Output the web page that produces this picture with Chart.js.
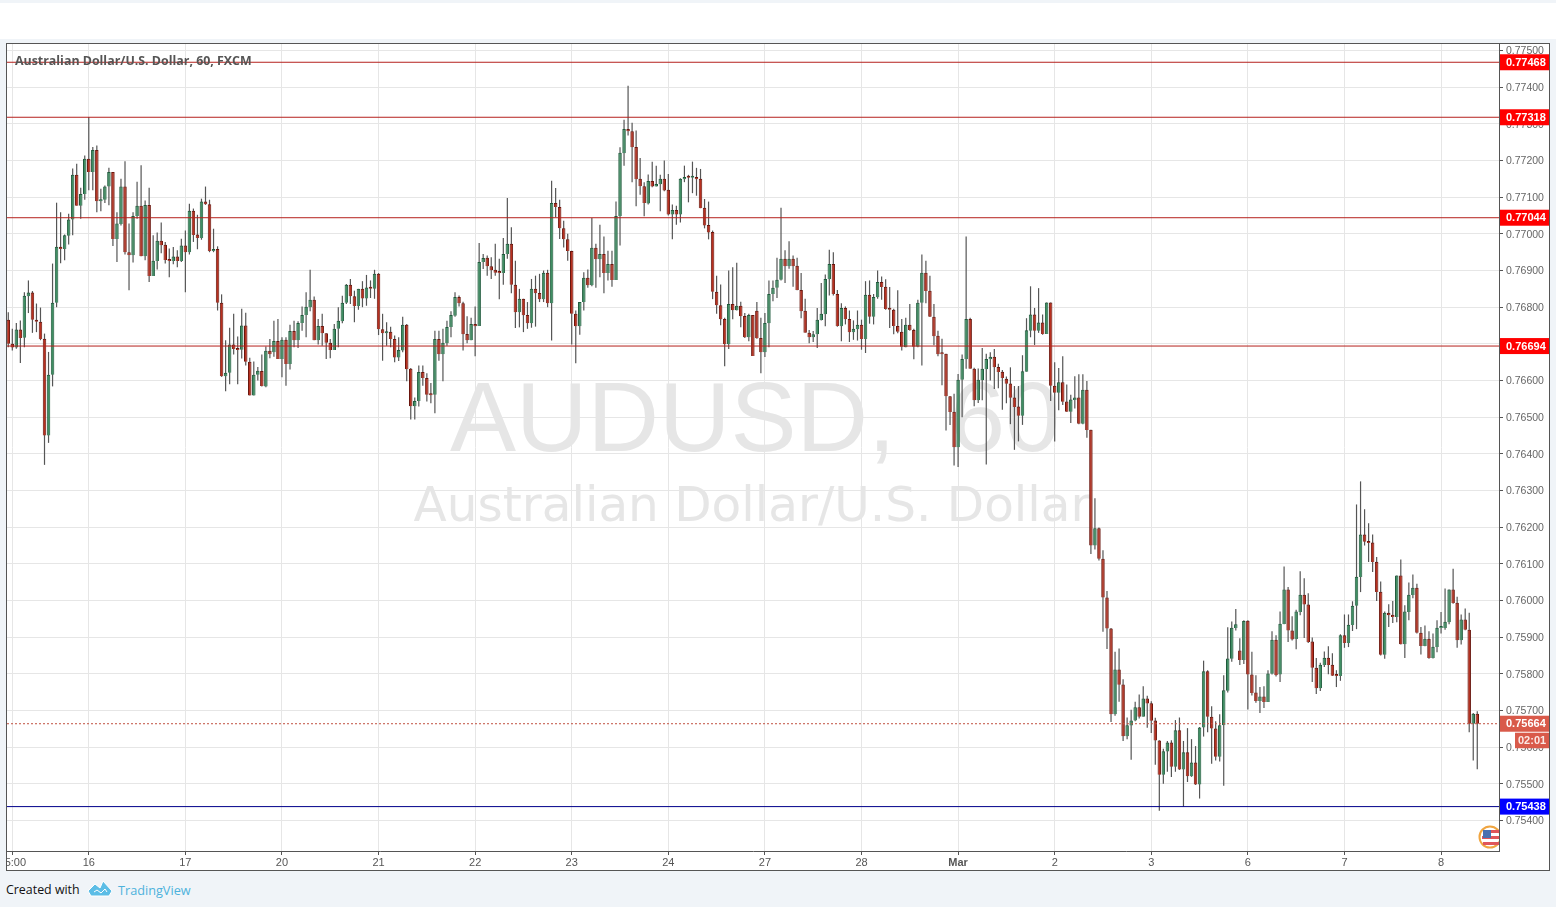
<!DOCTYPE html>
<html>
<head>
<meta charset="utf-8">
<title>AUDUSD, 60</title>
<script src="https://cdn.jsdelivr.net/npm/chart.js@4"></script>
<style>
    html, body { margin: 0; padding: 0; width: 1556px; height: 907px; overflow: hidden; background: #f0f4f8; }
    #topband { position: absolute; left: 0; top: 3px; width: 1556px; height: 36px; background: #fff; }
    #frame { position: absolute; left: 6px; top: 43px; width: 1544px; height: 828px; box-sizing: border-box; border: 1px solid #555; background: #fff; }
    #wrap { position: absolute; left: 0; top: 0; width: 1542px; height: 826px; }
    #flag { position: absolute; left: 1478px; top: 825px; }
    #footer { position: absolute; left: 6px; top: 881px; font: 12.4px "Open Sans", sans-serif; color: #111; }
    #footer svg { position: absolute; left: 81px; top: -1px; }
    #footer span { position: absolute; left: 112px; top: 0; color: #4db2dc; white-space: nowrap; font-size: 12.7px; }
</style>
</head>
<body>
<div id="topband"></div>
<div id="frame"><div id="wrap"><canvas id="chart"></canvas></div></div>
<svg id="flag" width="21" height="24" viewBox="0 0 21 24">
    <circle cx="12" cy="12" r="10.5" fill="#fff" stroke="#f0a540" stroke-width="2"/>
    <path d="M5 5h16v3H5zM4 11h17v3H4zM5 17h16v3H5z" fill="#e0565a"/>
    <rect x="5" y="5" width="8" height="8" fill="#4a70b0"/>
</svg>
<div id="footer">Created with
    <svg width="26" height="17" viewBox="0 0 26 17"><path d="M1 11 8 4l5 4 3-7 9 10-3 5H4zM7 12l3-2 4 3 4-4 2 3" fill="#5cbde6" stroke="#fff" stroke-width="1"/></svg>
    <span>TradingView</span>
</div>
<script>
// prices are in 1/100000 of a dollar
const opens = [76766,76700,76690,76739,76717,76830,76840,76766,76760,76714,
76450,76616,76812,76965,76959,76995,77039,77161,77077,77109,
77205,77169,77229,77089,77093,77129,77169,76986,77027,77129,
76950,76942,77049,77077,76939,77079,76885,76926,76981,76970,
76930,76926,76938,76926,76968,76950,77063,76998,76989,77088,
77081,76953,76959,76812,76612,76621,76698,76687,76684,76750,
76651,76559,76616,76626,76584,76681,76677,76708,76659,76711,
76645,76735,76710,76757,76779,76800,76820,76710,76749,76729,
76703,76683,76741,76762,76812,76861,76830,76803,76850,76824,
76855,76850,76891,76740,76729,76733,76713,76663,76682,76752,
76632,76530,76544,76623,76607,76562,76561,76713,76672,76702,
76746,76777,76828,76811,76727,76710,76754,76749,76923,76935,
76912,76902,76896,76893,76945,76973,76861,76786,76823,76779,
76756,76850,76839,76822,76894,76811,77084,77073,77015,76985,
76953,76782,76748,76814,76880,76860,76962,76931,76945,76893,
76918,76874,77048,77220,77286,77280,77237,77150,77130,77083,
77144,77129,77135,77150,77120,77053,77065,77053,77149,77155,
77153,77155,77150,77071,77024,77005,76842,76805,76768,76699,
76809,76792,76804,76776,76718,76779,76790,76716,76677,76756,
76836,76853,76875,76932,76912,76932,76913,76847,76790,76730,
76718,76726,76765,76781,76876,76918,76836,76748,76798,76768,
76732,76740,76752,76713,76834,76774,76827,76869,76856,76796,
76793,76749,76733,76691,76752,76738,76692,76812,76894,76845,
76774,76722,76674,76673,76557,76515,76418,76602,76658,76768,
76632,76546,76601,76631,76658,76665,76637,76624,76605,76592,
76554,76529,76504,76624,76736,76780,76736,76758,76727,76813,
76586,76567,76595,76543,76515,76547,76554,76482,76575,76466,
76150,76197,76114,76008,75924,75690,75812,75771,75630,75659,
75673,75709,75683,75733,75720,75673,75618,75525,75588,75613,
75547,75646,75539,75586,75521,75558,75498,75654,75807,75683,
75651,75574,75660,75754,75841,75925,75864,75838,75945,75798,
75749,75726,75738,75723,75800,75893,75798,75936,76030,75918,
75895,75969,76016,75989,75888,75817,75761,75824,75844,75825,
75796,75794,75905,75884,75933,75986,76064,76180,76160,76158,
76106,76024,75852,75967,75961,75955,76068,75881,75969,76015,
76035,75912,75876,75896,75843,75873,75925,75925,75941,76030,
75994,75892,75948,75920,75664,75691];
const highs = [76786,76741,76757,76764,76841,76873,76844,76810,76799,76728,
76678,76919,77085,77059,76998,77055,77178,77191,77126,77214,
77319,77237,77241,77123,77132,77180,77169,77059,77150,77198,
77028,77059,77142,77187,77091,77126,76996,77004,77031,76978,
76960,76964,76955,76987,77009,77082,77069,77052,77096,77129,
77093,77014,76966,76835,76710,76744,76782,76720,76796,76785,
76662,76652,76637,76671,76693,76713,76763,76768,76718,76718,
76752,76763,76762,76802,76841,76902,76829,76768,76782,76729,
76713,76754,76800,76831,76863,76877,76845,76850,76871,76888,
76873,76902,76893,76782,76759,76747,76723,76718,76774,76754,
76634,76554,76641,76641,76620,76593,76736,76736,76741,76763,
76789,76841,76832,76815,76775,76771,76802,76975,76945,76941,
76936,76973,76932,76989,77098,77018,76927,76850,76823,76814,
76877,76886,76891,76900,76902,77145,77125,77093,77036,77000,
76954,76791,76814,76895,76903,77043,76973,77025,76993,76954,
76954,77088,77236,77311,77404,77303,77282,77207,77141,77162,
77197,77186,77161,77200,77163,77080,77077,77152,77186,77161,
77197,77180,77177,77095,77088,77009,76886,76862,76771,76900,
76909,76921,76815,76784,76782,76779,76814,76771,76784,76873,
76873,76935,77071,76955,76980,76941,76935,76893,76823,76738,
76735,76798,76866,76889,76957,76950,76847,76811,76802,76791,
76764,76791,76766,76871,76873,76836,76900,76884,76876,76855,
76796,76846,76768,76771,76809,76741,76820,76944,76927,76886,
76809,76736,76714,76673,76557,76564,76618,76671,76993,76771,
76635,76633,76689,76673,76677,76686,76646,76629,76611,76636,
76585,76585,76669,76770,76857,76798,76852,76780,76813,76813,
76650,76634,76666,76589,76561,76612,76617,76617,76599,76466,
76279,76199,76137,76026,75925,75860,75869,75785,75681,75702,
75724,75744,75766,75740,75725,75680,75619,75596,75617,75619,
75674,75681,75617,75652,75622,75603,75655,75836,75810,75712,
75671,75690,75796,75927,75943,75977,75897,75946,75946,75860,
75796,75764,75766,75810,75916,75905,75970,76093,76037,75957,
75975,76080,76061,76020,75899,75843,75830,75861,75875,75856,
75810,75908,75962,75962,75998,76262,76325,76249,76211,76180,
76119,76052,75970,75990,75999,76068,76112,75987,76049,76071,
76046,75928,75932,75916,75910,75946,75969,76033,76030,76087,
76010,75962,75978,75967,75693,75698];
const lows = [76691,76682,76687,76648,76691,76784,76730,76732,76710,76370,
76430,76584,76800,76920,76928,76971,76996,77077,77041,77093,
77119,77119,77059,77062,77084,77078,76967,76923,77023,76944,
76846,76922,77041,76939,76928,76869,76885,76903,76947,76919,
76882,76917,76909,76923,76841,76944,76978,76958,76984,77079,
76950,76950,76791,76610,76571,76590,76671,76590,76660,76641,
76559,76559,76600,76584,76582,76661,76665,76659,76609,76586,
76630,76691,76689,76736,76718,76789,76710,76698,76695,76659,
76661,76683,76691,76756,76809,76809,76759,76793,76800,76804,
76825,76823,76724,76654,76695,76691,76650,76653,76677,76598,
76494,76494,76529,76586,76543,76538,76511,76654,76598,76695,
76718,76774,76802,76682,76702,76710,76666,76749,76904,76886,
76877,76886,76822,76861,76932,76838,76743,76745,76732,76741,
76744,76747,76814,76814,76800,76709,77045,76986,76963,76927,
76698,76647,76725,76791,76853,76857,76853,76882,76838,76873,
76856,76874,76968,77186,77268,77141,77075,77107,77048,77080,
77127,77129,77062,77116,77050,76985,77025,77031,77141,77086,
77111,77104,77070,77015,76985,76822,76782,76751,76639,76686,
76767,76791,76745,76716,76707,76667,76714,76620,76664,76691,
76816,76825,76873,76866,76905,76856,76846,76770,76730,76702,
76705,76689,76764,76748,76832,76832,76747,76707,76753,76705,
76711,76709,76684,76675,76755,76753,76823,76820,76793,76743,
76726,76729,76682,76691,76736,76658,76691,76641,76811,76773,
76696,76666,76587,76464,76479,76368,76364,76500,76632,76632,
76530,76539,76546,76371,76600,76577,76579,76520,76538,76481,
76411,76434,76479,76624,76718,76697,76730,76725,76727,76544,
76434,76519,76533,76514,76484,76524,76481,76481,76444,76127,
76139,76109,75915,75868,75669,75686,75724,75617,75622,75566,
75671,75678,75683,75653,75639,75552,75427,75500,75533,75519,
75533,75538,75437,75505,75519,75497,75460,75629,75641,75555,
75564,75561,75495,75749,75833,75918,75824,75827,75703,75741,
75721,75693,75707,75723,75798,75793,75778,75935,75887,75891,
75867,75960,75898,75884,75778,75745,75753,75819,75799,75794,
75764,75781,75871,75873,75917,75922,76023,76150,76105,76078,
75999,75850,75841,75928,75939,75941,75880,75843,75946,76006,
75910,75853,75875,75841,75842,75859,75910,75920,75935,75991,
75871,75880,75919,75641,75564,75540];
const closes = [76700,76690,76739,76716,76831,76840,76766,76760,76713,76450,
76616,76812,76965,76959,76996,77039,77161,77077,77109,77205,
77169,77229,77089,77094,77129,77169,76986,77028,77129,76950,
76942,77049,77077,76939,77079,76885,76927,76981,76969,76929,
76926,76938,76926,76968,76950,77063,76997,76989,77088,77081,
76953,76959,76812,76612,76621,76698,76686,76683,76750,76651,
76559,76616,76627,76585,76681,76672,76708,76659,76711,76645,
76735,76710,76757,76779,76801,76820,76710,76749,76729,76703,
76683,76741,76763,76812,76861,76830,76803,76850,76824,76854,
76850,76891,76740,76729,76733,76713,76663,76683,76752,76631,
76530,76544,76623,76607,76561,76560,76713,76672,76703,76746,
76779,76828,76811,76726,76710,76754,76748,76923,76934,76912,
76901,76894,76893,76945,76973,76861,76786,76823,76778,76756,
76850,76838,76822,76894,76811,77084,77073,77015,76985,76953,
76782,76748,76814,76880,76860,76962,76931,76945,76893,76918,
76874,77049,77221,77286,77280,77236,77149,77130,77084,77144,
77129,77136,77150,77118,77053,77065,77053,77150,77155,77153,
77155,77149,77070,77023,77004,76842,76805,76767,76699,76809,
76792,76804,76775,76718,76779,76667,76715,76677,76757,76836,
76853,76875,76932,76912,76932,76912,76847,76789,76730,76718,
76726,76766,76782,76877,76918,76836,76749,76798,76767,76732,
76741,76752,76713,76834,76774,76828,76869,76855,76795,76793,
76749,76733,76692,76752,76738,76692,76812,76894,76844,76774,
76721,76672,76672,76557,76514,76418,76602,76659,76768,76632,
76546,76602,76632,76659,76665,76636,76623,76607,76591,76553,
76528,76504,76625,76737,76780,76736,76758,76727,76813,76586,
76567,76595,76542,76515,76548,76554,76482,76575,76465,76150,
76197,76114,76008,75924,75690,75812,75770,75630,75660,75673,
75709,75683,75733,75719,75672,75618,75525,75589,75613,75547,
75646,75539,75586,75521,75558,75498,75654,75807,75683,75651,
75574,75660,75755,75842,75926,75935,75838,75944,75798,75748,
75726,75738,75723,75801,75893,75796,75937,76030,75918,75894,
75970,76016,75989,75887,75817,75761,75825,75844,75824,75795,
75794,75905,75884,75934,75986,76065,76180,76160,76157,76105,
76023,75852,75967,75960,75955,76068,75881,75970,76016,76035,
75912,75876,75896,75843,75874,75926,75927,75942,76030,75993,
75892,75948,75920,75664,75691,75664];

// candle number of each day tick
const dayTicks = [1,20,44,68,92,116,140,164,188,212,236,260,284,308,332,356];
const dayLabels = ["05:00","16","17","20","21","22","23","24","27","28","Mar","2","3","6","7","8"];
const priceTicks = [0.775,0.774,0.773,0.772,0.771,0.77,0.769,0.768,0.767,0.766,0.765,0.764,0.763,0.762,0.761,0.76,0.759,0.758,0.757,0.756,0.755,0.754];

const resistance = [0.77468,0.77318,0.77044,0.76694];
const lastPrice = 0.75664;
const support = 0.75438;
const countdown = "02:01";

const xMin = -0.32, xMax = 370.4;
const yMin = 0.753169, yMax = 0.775178;

const upFill = "#3f8f63", upEdge = "#1f5a3c";
const downFill = "#b8301f", downEdge = "#6a160e";
const lineRed = "#b5201c";

function levelLine(value, color, dash) {
    return {
        type: "line",
        data: [{x: xMin, y: value}, {x: xMax, y: value}],
        borderColor: color,
        borderWidth: 1,
        borderDash: dash || [],
        pointRadius: 0,
        order: 1
    };
}

const wicks = highs.map((h, i) => ({x: i, y: [lows[i] / 100000, h / 100000]}));
const bodies = opens.map((o, i) => ({x: i, y: [Math.min(o, closes[i]) / 100000, Math.max(o, closes[i]) / 100000]}));
const isUp = opens.map((o, i) => closes[i] >= o);

// watermark, behind the candles
const backText = {
    id: "backText",
    afterLayout(chart) {
        // price labels sit a pixel under their ticks in the original
        chart.scales.y.getLabelItems().forEach(item => { item.options.translation[1] += 1; });
    },
    beforeDatasetsDraw(chart) {
        const c = chart.ctx;
        const a = chart.chartArea;
        c.save();
        c.beginPath();
        c.rect(a.left, a.top, a.width, a.height);
        c.clip();
        c.fillStyle = "#e6e6e6";
        c.textAlign = "center";
        c.textBaseline = "alphabetic";
        c.font = '99px "Liberation Sans"';
        c.wordSpacing = "27px";
        c.fillText("AUDUSD, 60", 755 - 7, 451 - 44);
        c.wordSpacing = "0px";
        c.font = '48.5px "DejaVu Sans"';
        c.fillText("Australian Dollar/U.S. Dollar", 752 - 7, 521 - 44);
        c.restore();
    }
};

// title and the coloured price labels go on top
const frontText = {
    id: "frontText",
    afterDraw(chart) {
        const c = chart.ctx;
        const a = chart.chartArea;
        const y = chart.scales.y;
        c.save();
        c.fillStyle = "#555";
        c.textAlign = "left";
        c.textBaseline = "middle";
        c.font = 'bold 12.4px "Open Sans"';
        c.fillText("Australian Dollar/U.S. Dollar, 60, FXCM", 8, 17.5);

        function priceLabel(value, color) {
            const py = y.getPixelForValue(value);
            c.fillStyle = color;
            c.fillRect(a.right + 1, py - 8, 50, 16);
            c.fillStyle = "#fff";
            c.font = 'bold 11px "Liberation Sans"';
            c.fillText(value.toFixed(5), a.right + 7, py + 0.5);
            return py;
        }
        resistance.forEach(v => priceLabel(v, "#ff0000"));
        priceLabel(support, "#0000ff");
        const py = priceLabel(lastPrice, "#d95a4a");
        c.fillStyle = "#d95a4a";
        c.fillRect(a.right + 16, py + 9, 34, 15.5);
        c.fillStyle = "#fbe9e6";
        c.fillText(countdown, a.right + 19, py + 17.5);
        c.restore();
    }
};

const newChart = new Chart(document.getElementById("chart"), {
    type: "bar",
    data: {
        datasets: [
            {
                data: wicks,
                backgroundColor: "#555",
                barThickness: 1.2,
                grouped: false,
                inflateAmount: 0,
                order: 3
            },
            {
                data: bodies,
                backgroundColor: isUp.map(u => u ? upFill : downFill),
                borderColor: isUp.map(u => u ? upEdge : downEdge),
                borderWidth: 1,
                barThickness: 3.5,
                minBarLength: 2,
                grouped: false,
                inflateAmount: 0,
                order: 2
            },
            levelLine(resistance[0], lineRed),
            levelLine(resistance[1], lineRed),
            levelLine(resistance[2], lineRed),
            levelLine(resistance[3], lineRed),
            levelLine(lastPrice, "#c0503f", [2, 2]),
            levelLine(support, "#00008b")
        ]
    },
    options: {
        responsive: true,
        maintainAspectRatio: false,
        animation: false,
        layout: {padding: 0},
        plugins: {legend: {display: false}, tooltip: {enabled: false}},
        scales: {
            x: {
                type: "linear",
                min: xMin,
                max: xMax,
                offset: false,
                afterBuildTicks(scale) {
                    scale.ticks = dayTicks.map(v => ({value: v}));
                },
                afterFit(scale) {
                    scale.height = 19;
                    scale.paddingLeft = 0;
                    scale.paddingRight = 0;
                },
                grid: {offset: false, color: "#e6e6e6", tickColor: "#555", tickLength: 4},
                border: {color: "#555"},
                ticks: {
                    autoSkip: false,
                    maxRotation: 0,
                    padding: 1,
                    color: "#555",
                    font: ctx => ({family: '"Liberation Sans"', size: 11, weight: dayLabels[ctx.index] === "Mar" ? "bold" : "normal"}),
                    callback: (v, i) => dayLabels[i]
                }
            },
            y: {
                position: "right",
                min: yMin,
                max: yMax,
                afterBuildTicks(scale) {
                    scale.ticks = priceTicks.map(v => ({value: v}));
                },
                afterFit(scale) {
                    scale.width = 50;
                    scale.paddingTop = 0;
                    scale.paddingBottom = 0;
                },
                grid: {color: "#e6e6e6", tickColor: "#555", tickLength: 4},
                border: {color: "#555"},
                ticks: {
                    autoSkip: false,
                    padding: 3,
                    color: "#666",
                    font: {family: '"Liberation Sans"', size: 10.5},
                    callback: v => v.toFixed(5)
                }
            }
        }
    },
    plugins: [backText, frontText]
});
</script>
</body>
</html>
